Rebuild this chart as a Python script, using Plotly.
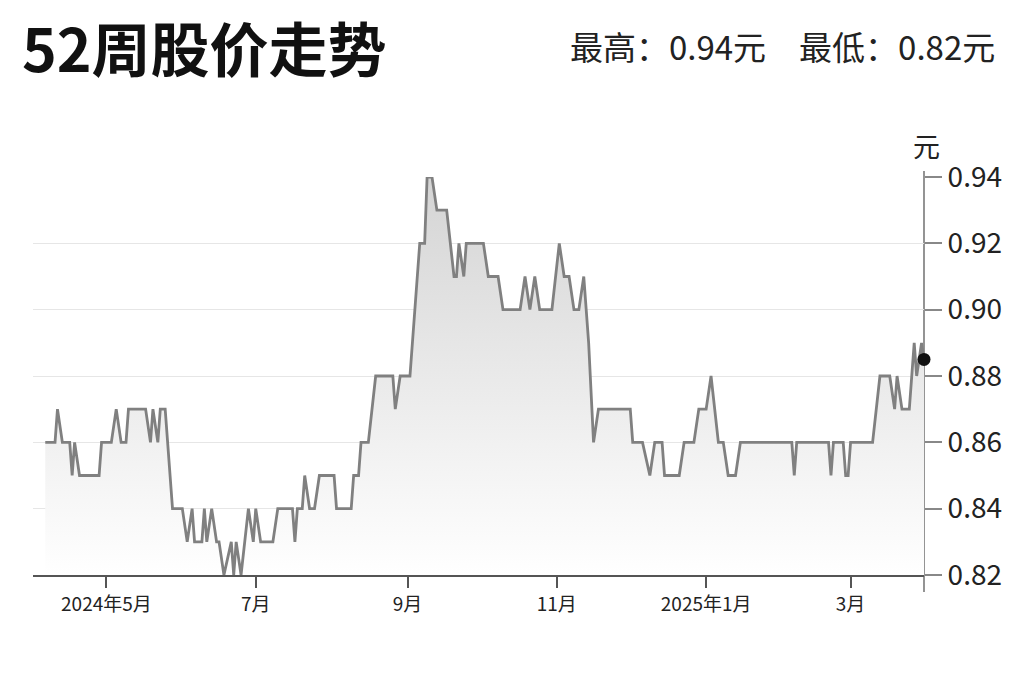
import plotly.graph_objects as go

# ---- data ----
dates = [
    "2024-04-06", "2024-04-10", "2024-04-11", "2024-04-13", "2024-04-16", "2024-04-17",
    "2024-04-18", "2024-04-20", "2024-04-28", "2024-04-29", "2024-05-03", "2024-05-05",
    "2024-05-07", "2024-05-09", "2024-05-10", "2024-05-17", "2024-05-19", "2024-05-20",
    "2024-05-22", "2024-05-23", "2024-05-25", "2024-05-28", "2024-06-01", "2024-06-03",
    "2024-06-05", "2024-06-06", "2024-06-09", "2024-06-10", "2024-06-11", "2024-06-13",
    "2024-06-15", "2024-06-16", "2024-06-18", "2024-06-21", "2024-06-22", "2024-06-23",
    "2024-06-25", "2024-06-28", "2024-06-30", "2024-07-01", "2024-07-03", "2024-07-08",
    "2024-07-10", "2024-07-16", "2024-07-17", "2024-07-18", "2024-07-20", "2024-07-21",
    "2024-07-23", "2024-07-25", "2024-07-27", "2024-08-02", "2024-08-03", "2024-08-09",
    "2024-08-10", "2024-08-12", "2024-08-13", "2024-08-16", "2024-08-19", "2024-08-26",
    "2024-08-27", "2024-08-29", "2024-09-02", "2024-09-04", "2024-09-06", "2024-09-08",
    "2024-09-09", "2024-09-11", "2024-09-13", "2024-09-17", "2024-09-20", "2024-09-21",
    "2024-09-22", "2024-09-24", "2024-09-25", "2024-10-02", "2024-10-04", "2024-10-08",
    "2024-10-10", "2024-10-17", "2024-10-19", "2024-10-21", "2024-10-23", "2024-10-25",
    "2024-10-30", "2024-11-02", "2024-11-04", "2024-11-06", "2024-11-08", "2024-11-10",
    "2024-11-12", "2024-11-14", "2024-11-16", "2024-11-18", "2024-12-01", "2024-12-02",
    "2024-12-06", "2024-12-09", "2024-12-11", "2024-12-14", "2024-12-15", "2024-12-21",
    "2024-12-23", "2024-12-27", "2024-12-29", "2025-01-01", "2025-01-03", "2025-01-06",
    "2025-01-08", "2025-01-10", "2025-01-13", "2025-01-15", "2025-02-05", "2025-02-06",
    "2025-02-07", "2025-02-20", "2025-02-21", "2025-02-22", "2025-02-26", "2025-02-27",
    "2025-02-28", "2025-03-01", "2025-03-10", "2025-03-13", "2025-03-17", "2025-03-19",
    "2025-03-20", "2025-03-22", "2025-03-25", "2025-03-27", "2025-03-28", "2025-03-30",
    "2025-03-31",
]
prices = [
    0.86, 0.86, 0.87, 0.86, 0.86, 0.85,
    0.86, 0.85, 0.85, 0.86, 0.86, 0.87,
    0.86, 0.86, 0.87, 0.87, 0.86, 0.87,
    0.86, 0.87, 0.87, 0.84, 0.84, 0.83,
    0.84, 0.83, 0.83, 0.84, 0.83, 0.84,
    0.83, 0.83, 0.82, 0.83, 0.82, 0.83,
    0.82, 0.84, 0.83, 0.84, 0.83, 0.83,
    0.84, 0.84, 0.83, 0.84, 0.84, 0.85,
    0.84, 0.84, 0.85, 0.85, 0.84, 0.84,
    0.85, 0.85, 0.86, 0.86, 0.88, 0.88,
    0.87, 0.88, 0.88, 0.90, 0.92, 0.92,
    0.94, 0.94, 0.93, 0.93, 0.91, 0.91,
    0.92, 0.91, 0.92, 0.92, 0.91, 0.91,
    0.90, 0.90, 0.91, 0.90, 0.91, 0.90,
    0.90, 0.92, 0.91, 0.91, 0.90, 0.90,
    0.91, 0.89, 0.86, 0.87, 0.87, 0.86,
    0.86, 0.85, 0.86, 0.86, 0.85, 0.85,
    0.86, 0.86, 0.87, 0.87, 0.88, 0.86,
    0.86, 0.85, 0.85, 0.86, 0.86, 0.85,
    0.86, 0.86, 0.85, 0.86, 0.86, 0.85,
    0.85, 0.86, 0.86, 0.88, 0.88, 0.87,
    0.88, 0.87, 0.87, 0.89, 0.88, 0.89,
    0.885,
]

tick_dates = ["2024-05-01", "2024-07-01", "2024-09-01", "2024-11-01", "2025-01-01", "2025-03-01"]
tick_labels = ["2024年5月", "7月", "9月", "11月", "2025年1月", "3月"]
y_ticks = [0.82, 0.84, 0.86, 0.88, 0.90, 0.92, 0.94]
y_tick_labels = ["0.82", "0.84", "0.86", "0.88", "0.90", "0.92", "0.94"]

title_text = "52周股价走势"
summary_text = "最高：0.94元　最低：0.82元"
unit_text = "元"

CJK = "Noto Sans CJK SC"
NARROW = "Liberation Sans Narrow, Arial Narrow, Noto Sans CJK SC, sans-serif"

fig = go.Figure()

fig.add_trace(go.Scatter(
    x=dates, y=prices, mode="lines",
    line=dict(color="#808080", width=2.8),
    fill="tozeroy",
    fillgradient=dict(type="vertical", start=0.82, stop=0.94,
                      colorscale=[[0, "rgba(255,255,255,1)"], [1, "rgba(212,212,212,1)"]]),
    hoverinfo="skip",
))

fig.add_trace(go.Scatter(
    x=[dates[-1]], y=[prices[-1]], mode="markers",
    marker=dict(color="#111111", size=13),
    cliponaxis=False, hoverinfo="skip",
))

L, R, T, B = 33, 100, 177, 107
W, H = 1024, 682
pw, ph = W - L - R, H - T - B

def px(x):
    return (x - L) / pw

def py(y):
    return (H - B - y) / ph

fig.update_layout(
    width=W, height=H,
    margin=dict(l=L, r=R, t=T, b=B),
    paper_bgcolor="white", plot_bgcolor="white",
    showlegend=False,
    hovermode=False,
    font=dict(family=CJK, color="#222222"),
    xaxis=dict(
        type="date",
        range=["2024-04-01", "2025-03-31"],
        tickmode="array", tickvals=tick_dates, ticktext=tick_labels,
        ticks="outside", ticklen=11, tickwidth=1.5, tickcolor="#555555",
        showline=True, linecolor="#555555", linewidth=1.8,
        showgrid=False, zeroline=False,
        tickfont=dict(family=NARROW, size=19, color="#222222"),
        fixedrange=True,
    ),
    yaxis=dict(
        side="right",
        range=[0.82, 0.94],
        tickmode="array", tickvals=y_ticks, ticktext=y_tick_labels,
        ticks="outside", ticklen=17, tickwidth=1.5, tickcolor="#888888",
        showline=False,
        showgrid=True, gridcolor="#e6e6e6", gridwidth=1,
        zeroline=False,
        tickfont=dict(family=NARROW, size=28, color="#222222"),
        fixedrange=True,
    ),
    shapes=[
        dict(type="line", xref="paper", yref="paper",
             x0=1, x1=1, y0=py(592), y1=py(171),
             line=dict(color="#888888", width=1.8), layer="below"),
    ],
    annotations=[
        dict(text="<b>" + title_text + "</b>", xref="paper", yref="paper",
             x=px(20), y=py(46), xanchor="left", yanchor="middle",
             showarrow=False, font=dict(family=CJK, size=59, color="#111111")),
        dict(text=summary_text, xref="paper", yref="paper",
             x=px(997), y=py(46), xanchor="right", yanchor="middle",
             showarrow=False, font=dict(family=CJK, size=33, color="#222222")),
        dict(text=unit_text, xref="paper", yref="paper",
             x=px(926), y=py(145), xanchor="center", yanchor="middle",
             showarrow=False, font=dict(family=CJK, size=27, color="#222222")),
    ],
)

fig.write_html("out.html", config={"displayModeBar": False},
               post_script="document.body.style.margin='0';")
